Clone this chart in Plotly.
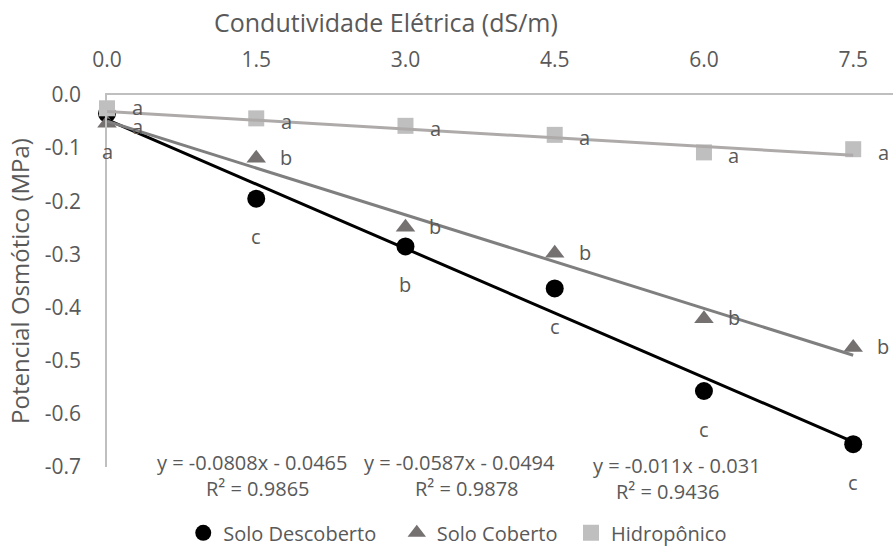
import plotly.graph_objects as go

# ---- data ----
ce = [0.0, 1.5, 3.0, 4.5, 6.0, 7.5]
x_tick_text = ["0.0", "1.5", "3.0", "4.5", "6.0", "7.5"]
y_ticks = [0.0, -0.1, -0.2, -0.3, -0.4, -0.5, -0.6, -0.7]
y_tick_text = ["0.0", "-0.1", "-0.2", "-0.3", "-0.4", "-0.5", "-0.6", "-0.7"]

solo_descoberto = [-0.035, -0.195, -0.285, -0.364, -0.557, -0.657]
solo_coberto = [-0.053, -0.119, -0.249, -0.298, -0.421, -0.475]
hidroponico = [-0.025, -0.044, -0.058, -0.075, -0.108, -0.102]

letras_descoberto = ["a", "c", "b", "c", "c", "c"]
letras_coberto = ["a", "b", "b", "b", "b", "b"]
letras_hidro = ["a", "a", "a", "a", "a", "a"]

# trendline coefficients (slope, intercept) and R²
coef_descoberto = (-0.0808, -0.0465, 0.9865)
coef_coberto = (-0.0587, -0.0494, 0.9878)
coef_hidro = (-0.011, -0.031, 0.9436)

series_names = ["Solo Descoberto", "Solo Coberto", "Hidropônico"]

FONT = "Open Sans"
TXT = "#595959"
NB = "\u00a0"

fig = go.Figure()

marker_specs = [
    (solo_descoberto, dict(symbol="circle", size=18, color="#000000")),
    (solo_coberto, dict(symbol="triangle-up", size=17, color="#767171")),
    (hidroponico, dict(symbol="square", size=16, color="#bfbfbf")),
]
pads = [NB * 3, NB + "\u2009", ""]
for name, pad, (vals, mk) in zip(series_names, pads, marker_specs):
    fig.add_trace(go.Scatter(x=ce, y=vals, mode="markers", name=name + pad,
                             marker=mk, cliponaxis=False))

line_specs = [(coef_descoberto, "#000000"), (coef_coberto, "#7f7f7f"), (coef_hidro, "#aeaaaa")]
for (m, b, r2), col in line_specs:
    xs = [ce[0], ce[-1]]
    ys = [m * xv + b for xv in xs]
    fig.add_trace(go.Scatter(x=xs, y=ys, mode="lines", line=dict(color=col, width=3),
                             showlegend=False, hoverinfo="skip"))

# letter labels
ann = []
for xv, yv, t in zip(ce, solo_descoberto, letras_descoberto):
    ann.append(dict(x=xv, y=yv, text=t, showarrow=False, yshift=-38,
                    font=dict(family=FONT, size=20, color=TXT)))
for i, (xv, yv, t) in enumerate(zip(ce, solo_coberto, letras_coberto)):
    ann.append(dict(x=xv, y=yv, text=t, showarrow=False, xshift=30, yshift=-3 if i == 0 else 1,
                    font=dict(family=FONT, size=20, color=TXT)))
for i, (xv, yv, t) in enumerate(zip(ce, hidroponico, letras_hidro)):
    ann.append(dict(x=xv, y=yv, text=t, showarrow=False, xshift=30, yshift=1 if i == 0 else -3,
                    font=dict(family=FONT, size=20, color=TXT)))

# equations (paper coordinates): (x_eq, y_eq, x_r2, y_r2)
eq_pos = [(0.185, 0.011, 0.192, -0.059),
          (0.449, 0.011, 0.458, -0.059),
          (0.725, 0.005, 0.714, -0.067)]
for (m, b, r2), (ex, ey, rx, ry) in zip([coef_descoberto, coef_coberto, coef_hidro], eq_pos):
    ann.append(dict(xref="paper", yref="paper", x=ex, y=ey, xanchor="center", yanchor="middle",
                    text=f"y = {m}x - {abs(b)}", showarrow=False,
                    font=dict(family=FONT, size=20, color=TXT)))
    ann.append(dict(xref="paper", yref="paper", x=rx, y=ry, xanchor="center", yanchor="middle",
                    text=f"R² = {r2}", showarrow=False,
                    font=dict(family=FONT, size=20, color=TXT)))

# x-axis title (top)
ann.append(dict(xref="paper", yref="paper", x=0.355, y=1.196, xanchor="center", yanchor="middle",
                text="Condutividade Elétrica (dS/m)",
                showarrow=False, font=dict(family=FONT, size=25, color=TXT)))

fig.update_layout(
    width=893, height=546,
    margin=dict(l=107, r=0, t=95, b=79, autoexpand=False),
    plot_bgcolor="white", paper_bgcolor="white",
    font=dict(family=FONT, color=TXT),
    annotations=ann,
    legend=dict(orientation="h", x=0.097, y=-0.177, xanchor="left", yanchor="middle",
                font=dict(family=FONT, size=20, color=TXT)),
    xaxis=dict(side="top", range=[0, 7.9], tickvals=ce, ticktext=x_tick_text,
               showgrid=False, zeroline=False, showline=True, linecolor="#bfbfbf", linewidth=1.5,
               ticks="", ticklabelstandoff=18, tickfont=dict(family=FONT, size=21, color=TXT)),
    yaxis=dict(range=[-0.7, 0.0], tickvals=y_ticks, ticktext=y_tick_text,
               showgrid=False, zeroline=False, showline=True, linecolor="#bfbfbf", linewidth=1.5,
               ticks="", ticklabelstandoff=20, tickfont=dict(family=FONT, size=21, color=TXT),
               title=dict(text="Potencial Osmótico (MPa)", standoff=8,
                          font=dict(family=FONT, size=24, color=TXT))),
)

fig.write_html("out.html")
